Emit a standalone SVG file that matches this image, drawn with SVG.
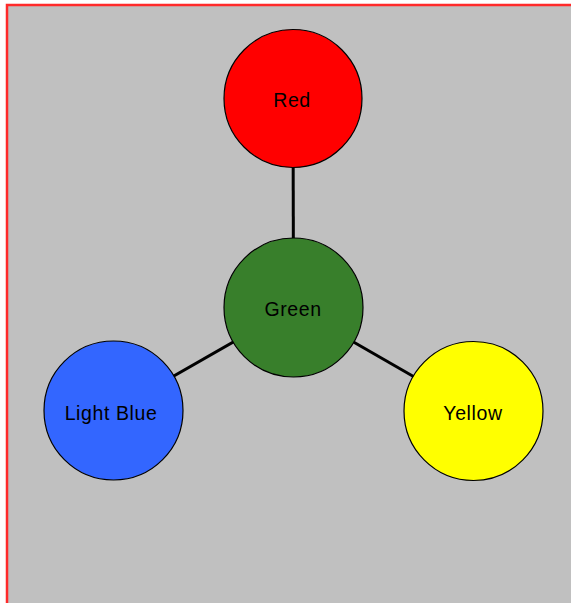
<svg xmlns="http://www.w3.org/2000/svg" width="571" height="603" viewBox="0 0 571 603">
<style>
.n{stroke:#000;stroke-width:1.2}
.t{font-family:"Liberation Sans",Arial,sans-serif;font-size:19.5px;letter-spacing:0.6px;fill:#000;text-anchor:middle}
.e{stroke:#000;stroke-width:3}
</style>
<rect x="7" y="5" width="570" height="610" fill="#c0c0c0" stroke="#ff2a2a" stroke-width="2.5"/>
<g id="edges">
<line class="e" x1="293.5" y1="307.5" x2="293" y2="98.5"/>
<line class="e" x1="293.5" y1="307.5" x2="113.5" y2="410.5"/>
<line class="e" x1="293.5" y1="307.5" x2="473.5" y2="411"/>
</g>
<g id="red"><circle class="n" cx="293" cy="98.5" r="69" fill="#ff0000"/><text class="t" x="292" y="107">Red</text></g>
<g id="green"><circle class="n" cx="293.5" cy="307.5" r="69.5" fill="#387f2b"/><text class="t" x="293" y="316">Green</text></g>
<g id="lightblue"><circle class="n" cx="113.5" cy="410.5" r="69.5" fill="#3366ff"/><text class="t" x="111" y="420">Light Blue</text></g>
<g id="yellow"><circle class="n" cx="473.5" cy="411" r="69.5" fill="#ffff00"/><text class="t" x="473" y="420">Yellow</text></g>
</svg>
